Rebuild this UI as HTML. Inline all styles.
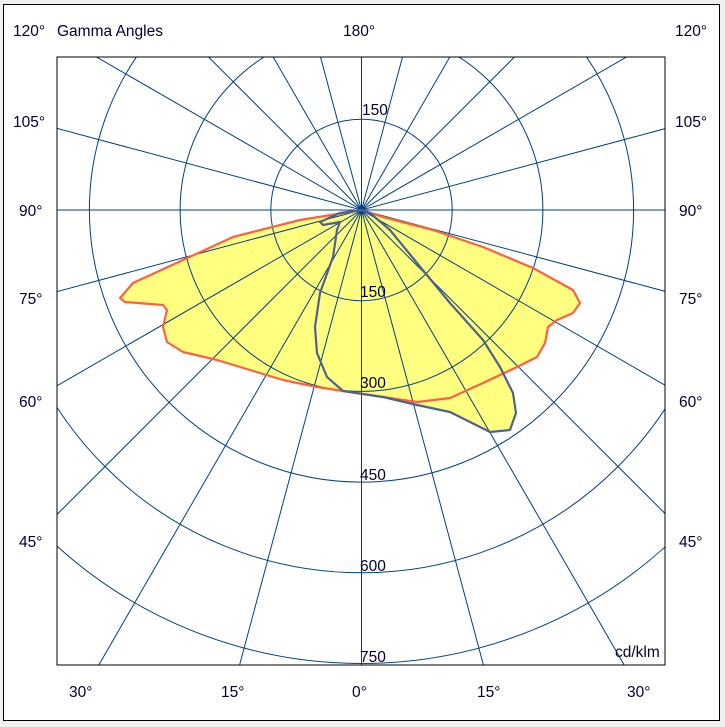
<!DOCTYPE html><html><head><style>html,body{margin:0;padding:0;overflow:hidden;width:725px;height:727px;background:#f0f0f0}svg{display:block;position:absolute;left:0;top:0}text{font-family:"Liberation Sans",sans-serif;font-size:15.5px;fill:#000033}</style></head><body>
<svg width="725" height="727" xmlns="http://www.w3.org/2000/svg">
<rect x="3.5" y="4.5" width="716" height="716" fill="#fff" stroke="#000"/>
<defs><clipPath id="c"><rect x="57" y="57" width="608" height="608"/></clipPath></defs>
<g clip-path="url(#c)">
<polygon fill="#ffff80" stroke="none" points="362,210 300,220 233,237 183,260 133,283 120,298 125,302 163,305 167,310 163,327 167,342 183,352 217,360 250,370 283,380 317,387 343,391 383,397 417,402 450,398 483,383 517,367 537,357 545,343 548,327 557,320 573,313 580,303 573,290 533,268 483,247 433,230 383,217"/>
<polygon fill="#ffff80" stroke="none" points="383,397 417,405 450,412 470,422 490,432 510,430 516,413 513,393 500,367 483,383 450,398 417,402"/>
<g stroke="#004080" stroke-width="1" fill="none">
<circle cx="361.5" cy="210" r="90.7"/><circle cx="361.5" cy="210" r="181.4"/><circle cx="361.5" cy="210" r="272.1"/><circle cx="361.5" cy="210" r="362.8"/><circle cx="361.5" cy="210" r="453.5"/>
<line x1="361.5" y1="-800" x2="361.5" y2="1200"/>
<line x1="361.5" y1="-800" x2="361.5" y2="1200" transform="rotate(15 361.5 210)"/>
<line x1="361.5" y1="-800" x2="361.5" y2="1200" transform="rotate(30 361.5 210)"/>
<line x1="361.5" y1="-800" x2="361.5" y2="1200" transform="rotate(45 361.5 210)"/>
<line x1="361.5" y1="-800" x2="361.5" y2="1200" transform="rotate(60 361.5 210)"/>
<line x1="361.5" y1="-800" x2="361.5" y2="1200" transform="rotate(75 361.5 210)"/>
<line x1="361.5" y1="-800" x2="361.5" y2="1200" transform="rotate(90 361.5 210)"/>
<line x1="361.5" y1="-800" x2="361.5" y2="1200" transform="rotate(105 361.5 210)"/>
<line x1="361.5" y1="-800" x2="361.5" y2="1200" transform="rotate(120 361.5 210)"/>
<line x1="361.5" y1="-800" x2="361.5" y2="1200" transform="rotate(135 361.5 210)"/>
<line x1="361.5" y1="-800" x2="361.5" y2="1200" transform="rotate(150 361.5 210)"/>
<line x1="361.5" y1="-800" x2="361.5" y2="1200" transform="rotate(165 361.5 210)"/>
</g>
<polyline fill="none" stroke="#ff6040" stroke-width="2.2" stroke-linejoin="round" points="362,210 300,220 233,237 183,260 133,283 120,298 125,302 163,305 167,310 163,327 167,342 183,352 217,360 250,370 283,380 317,387 343,391 383,397 417,402 450,398 483,383 517,367 537,357 545,343 548,327 557,320 573,313 580,303 573,290 533,268 483,247 433,230 383,217 362,210"/>
<polygon fill="none" stroke="#506090" stroke-width="2.2" stroke-linejoin="round" points="362,210 340,213 320,222 323,225 340,222 337,230 333,257 320,293 315,327 317,353 327,377 343,391 383,397 417,405 450,412 470,422 490,432 510,430 516,413 513,393 500,367 483,340 450,303 417,263 390,230 370,213"/>
</g>
<rect x="57" y="57" width="608" height="608" fill="none" stroke="#000"/>
<g>
<text x="362" y="115">150</text><text x="360" y="297">150</text><text x="360" y="388">300</text><text x="360" y="480">450</text><text x="360" y="571">600</text><text x="360" y="662">750</text>
<text x="615" y="657">cd/klm</text>
<text x="13" y="36">120°</text><text x="57" y="36">Gamma Angles</text><text x="343" y="36">180°</text><text x="675" y="36">120°</text>
<text x="13" y="127">105°</text><text x="675" y="127">105°</text>
<text x="19" y="216">90°</text><text x="679" y="216">90°</text>
<text x="19" y="304">75°</text><text x="679" y="304">75°</text>
<text x="19" y="407">60°</text><text x="679" y="407">60°</text>
<text x="19" y="547">45°</text><text x="679" y="547">45°</text>
<text x="69" y="697">30°</text><text x="221" y="697">15°</text><text x="352" y="697">0°</text><text x="477" y="697">15°</text><text x="627" y="697">30°</text>
</g>
</svg></body></html>
